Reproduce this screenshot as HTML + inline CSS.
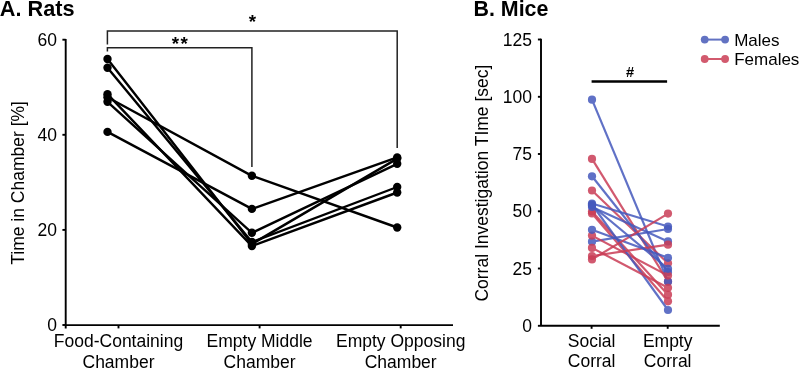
<!DOCTYPE html><html><head><meta charset="utf-8"><style>html,body{margin:0;padding:0;background:#fff;overflow:hidden}svg{display:block;will-change:transform}text{font-family:"Liberation Sans",sans-serif;fill:#000}</style></head><body>
<svg width="800" height="368" viewBox="0 0 800 368">
<rect width="800" height="368" fill="#fff"/>
<text x="-0.2" y="15.8" font-size="21.7" font-weight="bold">A. Rats</text>
<text x="473.5" y="16.1" font-size="21.4" font-weight="bold">B. Mice</text>
<g stroke="#000" stroke-width="1.9" fill="none">
<path d="M65.7 38.9V328.4M65.7 325.1H453"/>
<path d="M62.4 39.7H65.7"/>
<path d="M62.4 134.8H65.7"/>
<path d="M62.4 229.9H65.7"/>
<path d="M62.4 325.0H65.7"/>
<path d="M118.5 325.1V328.4"/>
<path d="M259.6 325.1V328.4"/>
<path d="M400.7 325.1V328.4"/>
</g>
<text x="57" y="45.6" font-size="17.5" text-anchor="end">60</text>
<text x="57" y="140.7" font-size="17.5" text-anchor="end">40</text>
<text x="57" y="235.8" font-size="17.5" text-anchor="end">20</text>
<text x="57" y="330.9" font-size="17.5" text-anchor="end">0</text>
<text x="118.5" y="347.4" font-size="17.5" text-anchor="middle">Food-Containing</text>
<text x="118.5" y="367.8" font-size="17.5" text-anchor="middle">Chamber</text>
<text x="259.6" y="347.4" font-size="17.5" text-anchor="middle">Empty Middle</text>
<text x="259.6" y="367.8" font-size="17.5" text-anchor="middle">Chamber</text>
<text x="400.7" y="347.4" font-size="17.5" text-anchor="middle">Empty Opposing</text>
<text x="400.7" y="367.8" font-size="17.5" text-anchor="middle">Chamber</text>
<text transform="translate(23.6 182.9) rotate(-90)" font-size="17.5" text-anchor="middle">Time in Chamber [%]</text>
<g stroke="#222" stroke-width="1.5" fill="none">
<path d="M107.4 44.5V31.1H397.2V148.1"/>
<path d="M107.4 51.6V47.8H251.9V166.9"/>
</g>
<text x="252.4" y="28.2" font-size="18.8" font-weight="bold" text-anchor="middle">*</text>
<text x="175.5" y="49.5" font-size="18.8" font-weight="bold" text-anchor="middle">*</text><text x="184.2" y="49.5" font-size="18.8" font-weight="bold" text-anchor="middle">*</text>
<g stroke="#000" stroke-width="2.4" fill="none">
<polyline points="107.5,59.0 251.9,244.0 397.2,158.6"/>
<polyline points="107.5,67.8 251.9,242.0 397.2,187.0"/>
<polyline points="107.5,94.2 251.9,246.0 397.2,192.5"/>
<polyline points="107.5,97.3 251.9,175.8 397.2,227.5"/>
<polyline points="107.5,101.8 251.9,232.8 397.2,163.8"/>
<polyline points="107.5,131.9 251.9,208.9 397.2,157.4"/>
</g><g fill="#000">
<circle cx="107.5" cy="59.0" r="4.2"/>
<circle cx="251.9" cy="244.0" r="4.2"/>
<circle cx="397.2" cy="158.6" r="4.2"/>
<circle cx="107.5" cy="67.8" r="4.2"/>
<circle cx="251.9" cy="242.0" r="4.2"/>
<circle cx="397.2" cy="187.0" r="4.2"/>
<circle cx="107.5" cy="94.2" r="4.2"/>
<circle cx="251.9" cy="246.0" r="4.2"/>
<circle cx="397.2" cy="192.5" r="4.2"/>
<circle cx="107.5" cy="97.3" r="4.2"/>
<circle cx="251.9" cy="175.8" r="4.2"/>
<circle cx="397.2" cy="227.5" r="4.2"/>
<circle cx="107.5" cy="101.8" r="4.2"/>
<circle cx="251.9" cy="232.8" r="4.2"/>
<circle cx="397.2" cy="163.8" r="4.2"/>
<circle cx="107.5" cy="131.9" r="4.2"/>
<circle cx="251.9" cy="208.9" r="4.2"/>
<circle cx="397.2" cy="157.4" r="4.2"/>
</g>
<g stroke="#000" stroke-width="1.9" fill="none">
<path d="M541 38.8V325.8M541 325.8H719.8"/>
<path d="M537.9 39.5H541"/>
<path d="M537.9 96.8H541"/>
<path d="M537.9 154.0H541"/>
<path d="M537.9 211.3H541"/>
<path d="M537.9 268.5H541"/>
<path d="M537.9 325.8H541"/>
<path d="M591.6 325.8V328.8"/>
<path d="M667.7 325.8V328.8"/>
</g>
<text x="532" y="45.6" font-size="17.5" text-anchor="end">125</text>
<text x="532" y="102.9" font-size="17.5" text-anchor="end">100</text>
<text x="532" y="160.1" font-size="17.5" text-anchor="end">75</text>
<text x="532" y="217.4" font-size="17.5" text-anchor="end">50</text>
<text x="532" y="274.6" font-size="17.5" text-anchor="end">25</text>
<text x="532" y="331.9" font-size="17.5" text-anchor="end">0</text>
<text x="591.6" y="347.4" font-size="17.5" text-anchor="middle">Social</text>
<text x="591.6" y="367.4" font-size="17.5" text-anchor="middle">Corral</text>
<text x="667.7" y="347.4" font-size="17.5" text-anchor="middle">Empty</text>
<text x="667.7" y="367.4" font-size="17.5" text-anchor="middle">Corral</text>
<text transform="translate(488.3 183.1) rotate(-90)" font-size="17.5" text-anchor="middle">Corral Investigation TIme [sec]</text>
<path d="M591.6 81.5H667.1" stroke="#000" stroke-width="2.5"/>
<text x="630" y="76.8" font-size="14.6" font-weight="bold" text-anchor="middle">#</text>
<path d="M704.7 39.6H725.1" stroke="#6272c2" stroke-width="2"/>
<circle cx="704.7" cy="39.6" r="3.9" fill="#6272c2"/><circle cx="725.1" cy="39.6" r="3.9" fill="#6272c2"/>
<path d="M704.7 59H725.1" stroke="#d25a6e" stroke-width="2"/>
<circle cx="704.7" cy="59" r="3.9" fill="#d25a6e"/><circle cx="725.1" cy="59" r="3.9" fill="#d25a6e"/>
<text x="734.2" y="46.1" font-size="17">Males</text>
<text x="734.2" y="65.1" font-size="17">Females</text>
<g opacity="0.85">
<path d="M592.0 158.9L668.0 281.5" stroke="#ca3d56" stroke-width="2.2"/>
<circle cx="592.0" cy="158.9" r="4.1" fill="#ca3d56"/><circle cx="668.0" cy="281.5" r="4.1" fill="#ca3d56"/>
</g>
<g opacity="0.85">
<path d="M592.0 99.7L668.0 281.7" stroke="#4559bd" stroke-width="2.2"/>
<circle cx="592.0" cy="99.7" r="4.1" fill="#4559bd"/><circle cx="668.0" cy="281.7" r="4.1" fill="#4559bd"/>
</g>
<g opacity="0.85">
<path d="M592.0 190.5L668.0 263.3" stroke="#ca3d56" stroke-width="2.2"/>
<circle cx="592.0" cy="190.5" r="4.1" fill="#ca3d56"/><circle cx="668.0" cy="263.3" r="4.1" fill="#ca3d56"/>
</g>
<g opacity="0.85">
<path d="M592.0 176.3L668.0 272.0" stroke="#4559bd" stroke-width="2.2"/>
<circle cx="592.0" cy="176.3" r="4.1" fill="#4559bd"/><circle cx="668.0" cy="272.0" r="4.1" fill="#4559bd"/>
</g>
<g opacity="0.85">
<path d="M592.0 211.5L668.0 294.7" stroke="#ca3d56" stroke-width="2.2"/>
<circle cx="592.0" cy="211.5" r="4.1" fill="#ca3d56"/><circle cx="668.0" cy="294.7" r="4.1" fill="#ca3d56"/>
</g>
<g opacity="0.85">
<path d="M592.0 203.5L668.0 226.5" stroke="#4559bd" stroke-width="2.2"/>
<circle cx="592.0" cy="203.5" r="4.1" fill="#4559bd"/><circle cx="668.0" cy="226.5" r="4.1" fill="#4559bd"/>
</g>
<g opacity="0.85">
<path d="M592.0 213.5L668.0 301.3" stroke="#ca3d56" stroke-width="2.2"/>
<circle cx="592.0" cy="213.5" r="4.1" fill="#ca3d56"/><circle cx="668.0" cy="301.3" r="4.1" fill="#ca3d56"/>
</g>
<g opacity="0.85">
<path d="M592.0 241.7L668.0 229.0" stroke="#4559bd" stroke-width="2.2"/>
<circle cx="592.0" cy="241.7" r="4.1" fill="#4559bd"/><circle cx="668.0" cy="229.0" r="4.1" fill="#4559bd"/>
</g>
<g opacity="0.85">
<path d="M592.0 235.6L668.0 275.6" stroke="#ca3d56" stroke-width="2.2"/>
<circle cx="592.0" cy="235.6" r="4.1" fill="#ca3d56"/><circle cx="668.0" cy="275.6" r="4.1" fill="#ca3d56"/>
</g>
<g opacity="0.85">
<path d="M592.0 204.5L668.0 310.0" stroke="#4559bd" stroke-width="2.2"/>
<circle cx="592.0" cy="204.5" r="4.1" fill="#4559bd"/><circle cx="668.0" cy="310.0" r="4.1" fill="#4559bd"/>
</g>
<g opacity="0.85">
<path d="M592.0 247.9L668.0 287.8" stroke="#ca3d56" stroke-width="2.2"/>
<circle cx="592.0" cy="247.9" r="4.1" fill="#ca3d56"/><circle cx="668.0" cy="287.8" r="4.1" fill="#ca3d56"/>
</g>
<g opacity="0.85">
<path d="M592.0 207.0L668.0 241.4" stroke="#4559bd" stroke-width="2.2"/>
<circle cx="592.0" cy="207.0" r="4.1" fill="#4559bd"/><circle cx="668.0" cy="241.4" r="4.1" fill="#4559bd"/>
</g>
<g opacity="0.85">
<path d="M592.0 256.0L668.0 244.7" stroke="#ca3d56" stroke-width="2.2"/>
<circle cx="592.0" cy="256.0" r="4.1" fill="#ca3d56"/><circle cx="668.0" cy="244.7" r="4.1" fill="#ca3d56"/>
</g>
<g opacity="0.85">
<path d="M592.0 229.8L668.0 257.8" stroke="#4559bd" stroke-width="2.2"/>
<circle cx="592.0" cy="229.8" r="4.1" fill="#4559bd"/><circle cx="668.0" cy="257.8" r="4.1" fill="#4559bd"/>
</g>
<g opacity="0.85">
<path d="M592.0 259.4L668.0 213.6" stroke="#ca3d56" stroke-width="2.2"/>
<circle cx="592.0" cy="259.4" r="4.1" fill="#ca3d56"/><circle cx="668.0" cy="213.6" r="4.1" fill="#ca3d56"/>
</g>
<g opacity="0.85">
<path d="M592.0 205.5L668.0 268.8" stroke="#4559bd" stroke-width="2.2"/>
<circle cx="592.0" cy="205.5" r="4.1" fill="#4559bd"/><circle cx="668.0" cy="268.8" r="4.1" fill="#4559bd"/>
</g>
</svg></body></html>
